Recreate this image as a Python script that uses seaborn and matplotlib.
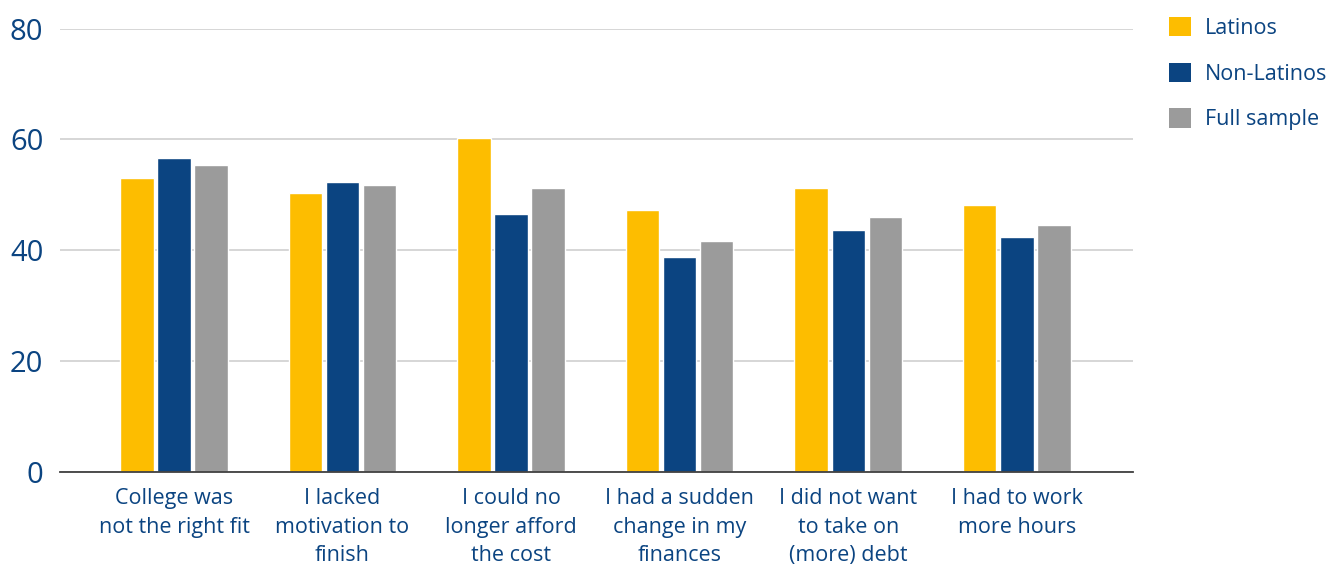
import matplotlib
matplotlib.use("Agg")
import matplotlib.pyplot as plt
import seaborn as sns
import pandas as pd
from matplotlib.patches import Patch

categories = ["College was\nnot the right fit", "I lacked\nmotivation to\nfinish",
              "I could no\nlonger afford\nthe cost", "I had a sudden\nchange in my\nfinances",
              "I did not want\nto take on\n(more) debt", "I had to work\nmore hours"]
series = ["Latinos", "Non-Latinos", "Full sample"]
latinos = [53.0, 50.3, 60.2, 47.2, 51.2, 48.1]
non_latinos = [56.6, 52.3, 46.6, 38.8, 43.6, 42.4]
full_sample = [55.4, 51.7, 51.2, 41.7, 46.0, 44.5]
yticks = [0, 20, 40, 60, 80]

colors = ["#FDBD00", "#0B4481", "#9B9B9B"]
text_color = "#0B4481"

rows = []
for s, vals in zip(series, [latinos, non_latinos, full_sample]):
    for c, v in zip(categories, vals):
        rows.append({"category": c, "series": s, "value": v})
df = pd.DataFrame(rows)

sns.set_theme(style="white")
plt.rcParams["font.family"] = ["Open Sans", "DejaVu Sans"]

fig = plt.figure(figsize=(13.3, 5.66), dpi=100)
ax = fig.add_axes([0.0451, 0.1666, 0.852 - 0.0451, 0.9496 - 0.1666])

sns.barplot(data=df, x="category", y="value", hue="series", order=categories,
            hue_order=series, palette=colors, width=0.66, gap=0.1,
            saturation=1, legend=False, ax=ax, zorder=3)

ax.set_ylim(0, 80)
ax.set_yticks(yticks)
ax.set_xlim(-0.676, 5.69)
ax.grid(axis="y", color="#D3D3D3", linewidth=1.3, zorder=0)
ax.set_axisbelow(True)
for sp in ["left", "right", "top"]:
    ax.spines[sp].set_visible(False)
ax.spines["bottom"].set_color("#404040")
ax.spines["bottom"].set_linewidth(1.3)
ax.spines["bottom"].set_zorder(5)
ax.set_xlabel("")
ax.set_ylabel("")
ax.tick_params(axis="y", length=0, pad=12, labelsize=21, labelcolor=text_color)
ax.tick_params(axis="x", length=0, pad=12, labelsize=15.5, labelcolor=text_color)
for lbl in ax.get_xticklabels():
    lbl.set_linespacing(1.47)

handles = [Patch(facecolor=c, edgecolor="none") for c in colors]
fig.legend(handles, series, loc="upper left", bbox_to_anchor=(0.8645, 1.004),
           frameon=False, fontsize=15.5, labelcolor=text_color,
           handlelength=1.0, handleheight=1.0, labelspacing=1.1, handletextpad=0.65)

fig.savefig("out.png", dpi=100)
